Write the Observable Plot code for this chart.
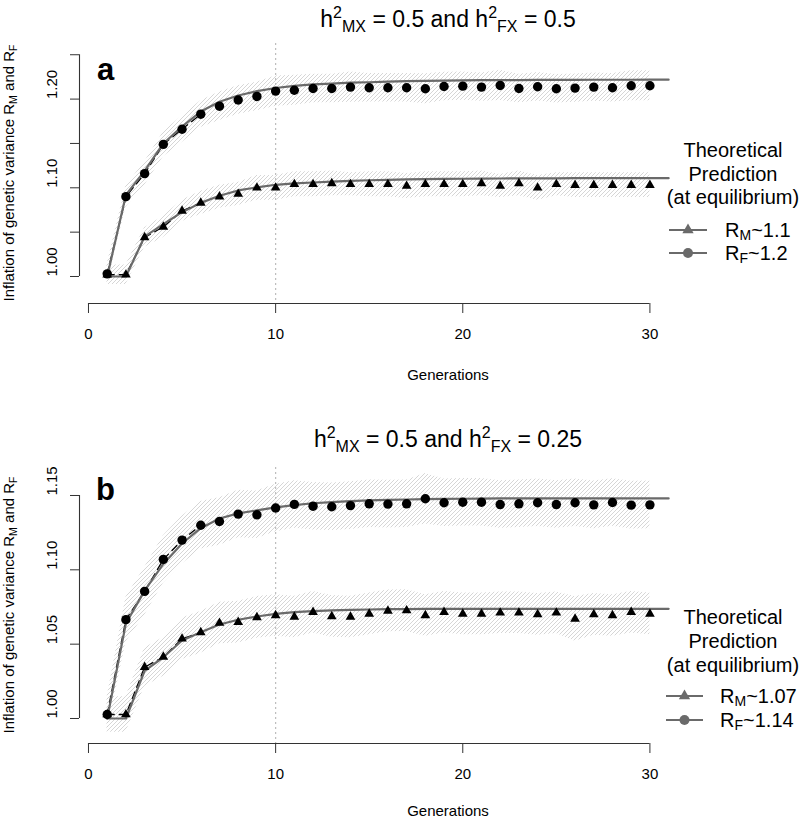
<!DOCTYPE html>
<html><head><meta charset="utf-8">
<script src="https://cdn.jsdelivr.net/npm/d3@7"></script>
<script src="https://cdn.jsdelivr.net/npm/@observablehq/plot@0.6"></script>
<style>
body{margin:0;background:#fff;}
#wrap{position:relative;width:800px;height:821px;overflow:hidden;font-family:"Liberation Sans",Arial,sans-serif;color:#000;background:#fff;}
.abs{position:absolute;white-space:nowrap;}
.panel{position:absolute;left:0;}
</style></head><body>
<svg width="0" height="0" style="position:absolute;left:0;top:0"><defs>
<pattern id="hatch" patternUnits="userSpaceOnUse" width="4" height="4">
<path d="M-1,1 L1,-1 M0,4 L4,0 M3,5 L5,3" stroke="#cbcbcb" stroke-width="0.8"/>
</pattern></defs></svg>
<div id="wrap"></div>
<script>
// ---------- data ----------
const generations = [1,2,3,4,5,6,7,8,9,10,11,12,13,14,15,16,17,18,19,20,21,22,23,24,25,26,27,28,29,30];
const theoryGenerations = [1,2,3,4,5,6,7,8,9,10,11,12,13,14,15,16,17,18,19,20,21,22,23,24,25,26,27,28,29,30,31];
const dashedGenerations = [1,2,3,4,5,6];
const xTicks = [0,10,20,30];
const xLabel = "Generations";
const yTitle = "Inflation of genetic variance R<sub>M</sub> and R<sub>F</sub>";
const legendTitle = ["Theoretical", "Prediction", "(at equilibrium)"];

// panel a : h2MX = 0.5, h2FX = 0.5
const aTitle = ["0.5", "0.5"];
const aObsRM = [1.002,1.002,1.044,1.056,1.074,1.083,1.090,1.093,1.100,1.100,1.104,1.104,1.105,1.104,1.104,1.104,1.102,1.104,1.104,1.104,1.105,1.102,1.105,1.100,1.104,1.103,1.103,1.103,1.103,1.103];
const aObsRF = [1.003,1.090,1.116,1.149,1.166,1.183,1.192,1.199,1.203,1.209,1.210,1.212,1.212,1.2135,1.2128,1.2128,1.2128,1.2117,1.2142,1.2146,1.2135,1.2154,1.2120,1.2139,1.2117,1.2124,1.2135,1.2128,1.2150,1.2150];
const aHalfRM = [0.011,0.011,0.011,0.012,0.012,0.013,0.013,0.013,0.014,0.014,0.014,0.014,0.014,0.013,0.014,0.014,0.014,0.014,0.014,0.014,0.014,0.013,0.014,0.014,0.013,0.014,0.014,0.014,0.014,0.014];
const aHalfRF = [0.011,0.012,0.013,0.014,0.015,0.015,0.016,0.016,0.016,0.017,0.017,0.016,0.016,0.017,0.016,0.016,0.016,0.017,0.016,0.016,0.016,0.017,0.016,0.016,0.016,0.016,0.016,0.016,0.017,0.017];
const aTheoryRM = [1.000,1.000,1.045,1.059,1.0725,1.083,1.091,1.097,1.1005,1.1034,1.105,1.106,1.107,1.1078,1.1085,1.109,1.1095,1.1098,1.1100,1.1102,1.1104,1.1105,1.1106,1.1107,1.1107,1.1108,1.1108,1.1108,1.1108,1.1108,1.1108];
const aTheoryRF = [1.000,1.092,1.119,1.150,1.169,1.186,1.197,1.204,1.209,1.2125,1.215,1.2165,1.2175,1.2185,1.219,1.2197,1.2202,1.2206,1.2209,1.2211,1.2213,1.2214,1.2215,1.2216,1.2217,1.2217,1.2218,1.2218,1.2218,1.2219,1.2219];
const aYTicks = [1.00,1.05,1.10,1.15,1.20,1.25];
const aYLabels = [1.00,1.10,1.20];
const aLegendValues = ["1.1", "1.2"];

// panel b : h2MX = 0.5, h2FX = 0.25
const bTitle = ["0.5", "0.25"];
const bObsRM = [1.0027,1.0027,1.0345,1.0414,1.0536,1.0579,1.0642,1.0648,1.0680,1.0693,1.0683,1.0715,1.0687,1.0683,1.0704,1.0724,1.0726,1.0693,1.0715,1.0704,1.0704,1.0711,1.0711,1.0700,1.0711,1.0670,1.0700,1.0693,1.0715,1.0704];
const bObsRF = [1.0027,1.0665,1.0855,1.1070,1.1200,1.1300,1.1325,1.1375,1.1370,1.1416,1.1440,1.1428,1.1424,1.1432,1.1444,1.1442,1.1444,1.1478,1.1451,1.1455,1.1455,1.1439,1.1444,1.1451,1.1439,1.1451,1.1437,1.1453,1.1435,1.1437];
const bHalfRM = [0.012,0.012,0.013,0.013,0.014,0.014,0.014,0.014,0.014,0.014,0.014,0.014,0.014,0.014,0.014,0.014,0.014,0.014,0.014,0.014,0.014,0.014,0.014,0.014,0.014,0.015,0.014,0.014,0.014,0.014];
const bHalfRF = [0.012,0.015,0.016,0.016,0.016,0.016,0.016,0.016,0.016,0.016,0.016,0.016,0.016,0.016,0.016,0.016,0.016,0.017,0.016,0.016,0.016,0.016,0.016,0.016,0.016,0.016,0.016,0.016,0.016,0.016];
const bTheoryRM = [1.000,1.000,1.032,1.0412,1.0525,1.058,1.0632,1.0664,1.0686,1.0704,1.0715,1.0722,1.0727,1.0730,1.0733,1.0735,1.0736,1.0737,1.0737,1.0738,1.0738,1.0738,1.0738,1.0738,1.0738,1.0738,1.0738,1.0738,1.0738,1.0738,1.0738];
const bTheoryRF = [1.000,1.064,1.086,1.104,1.1177,1.128,1.1345,1.138,1.140,1.142,1.1435,1.1448,1.1456,1.1462,1.1467,1.1470,1.1473,1.1475,1.1477,1.1478,1.1479,1.1480,1.1480,1.1480,1.1480,1.1480,1.1480,1.1480,1.1480,1.1480,1.1480];
const bYTicks = [1.00,1.05,1.10,1.15];
const bYLabels = [1.00,1.05,1.10,1.15];
const bLegendValues = ["1.07", "1.14"];

// ---------- layout ----------
const FONT = '"Liberation Sans", Arial, sans-serif';
const GRAY = "#6a6a6a";
const xDomain = [-0.48, 31.1];
const panels = [
  {letter:"a", top:0, height:410, mTop:43, mBottom:107, yDomain:[0.96956,1.26268], yTicks:aYTicks, yLabels:aYLabels,
   rM:aObsRM, rF:aObsRF, hM:aHalfRM, hF:aHalfRF, tM:aTheoryRM, tF:aTheoryRF, title:aTitle, legend:aLegendValues,
   titleBase:27, letterBase:80, letterLeft:97, xlabBase:380,
   legBase:[157,180.5,204], legRows:[230,253], legLine:[669,707], legText:725},
  {letter:"b", top:410, height:411, mTop:57, mBottom:78, yDomain:[0.98318,1.16883], yTicks:bYTicks, yLabels:bYLabels,
   rM:bObsRM, rF:bObsRF, hM:bHalfRM, hF:bHalfRF, tM:bTheoryRM, tF:bTheoryRF, title:bTitle, legend:bLegendValues,
   titleBase:447, letterBase:500, letterLeft:96, xlabBase:816,
   legBase:[624,648,671.5], legRows:[696,720], legLine:[666,703], legText:720}
];

const wrap = document.getElementById("wrap");

function addText(html, {x, base, size, anchor="start", weight="normal"}) {
  const d = document.createElement("div");
  d.className = "abs";
  d.innerHTML = html;
  d.style.fontSize = size + "px";
  d.style.lineHeight = size + "px";
  d.style.fontWeight = weight;
  d.style.top = (base - 0.8465 * size) + "px";
  d.style.left = x + "px";
  if (anchor === "middle") d.style.transform = "translateX(-50%)";
  wrap.appendChild(d);
  return d;
}

function drawPanel(p) {
  const obs = generations.map((g, i) => ({
    g, m: p.rM[i], f: p.rF[i],
    mlo: p.rM[i] - p.hM[i], mhi: p.rM[i] + p.hM[i],
    flo: p.rF[i] - p.hF[i], fhi: p.rF[i] + p.hF[i]
  }));
  const dashed = obs.filter(d => dashedGenerations.includes(d.g));
  const th = theoryGenerations.map((g, i) => ({g, m: p.tM[i], f: p.tF[i]}));
  const chart = Plot.plot({
    width: 800, height: p.height,
    marginLeft: 79, marginRight: 130, marginTop: p.mTop, marginBottom: p.mBottom,
    x: {domain: xDomain},
    y: {domain: p.yDomain},
    style: {fontFamily: FONT, background: "transparent", color: "#000", overflow: "visible"},
    marks: [
      Plot.areaY(obs, {x: "g", y1: "flo", y2: "fhi", fill: "url(#hatch)", curve: "linear"}),
      Plot.areaY(obs, {x: "g", y1: "mlo", y2: "mhi", fill: "url(#hatch)", curve: "linear"}),
      Plot.ruleX([10], {stroke: "#bdbdbd", strokeWidth: 1.2, strokeDasharray: "2,3"}),
      Plot.line(dashed, {x: "g", y: "f", stroke: "#000", strokeWidth: 1.3, strokeDasharray: "7,5"}),
      Plot.line(dashed, {x: "g", y: "m", stroke: "#000", strokeWidth: 1.3, strokeDasharray: "7,5"}),
      Plot.line(th, {x: "g", y: "f", stroke: GRAY, strokeWidth: 2.2}),
      Plot.line(th, {x: "g", y: "m", stroke: GRAY, strokeWidth: 2.2}),
      Plot.dot(obs, {x: "g", y: "f", r: 4.7, fill: "#000", stroke: "none", symbol: "circle"}),
      Plot.dot(obs, {x: "g", y: "m", r: 3.6, fill: "#000", stroke: "none", symbol: "triangle"}),
      Plot.ruleY([p.yDomain[0]], {x1: xTicks[0], x2: xTicks[xTicks.length - 1], stroke: "#333", strokeWidth: 1.1}),
      Plot.ruleX([xDomain[0]], {y1: p.yTicks[0], y2: p.yTicks[p.yTicks.length - 1], stroke: "#333", strokeWidth: 1.1}),
      Plot.axisX({ticks: xTicks, tickSize: 10, tickPadding: 15, fontSize: 15, label: null, stroke: "#333", tickFormat: d => String(d)}),
      Plot.axisY({ticks: p.yTicks, tickSize: 9, tickFormat: () => "", label: null, stroke: "#333"}),
      Plot.text(p.yLabels, {y: d => d, text: d => d.toFixed(2), frameAnchor: "left", dx: -27, rotate: -90, fontSize: 15, fill: "#000"})
    ]
  });
  chart.classList.add("panel");
  chart.style.top = p.top + "px";
  wrap.appendChild(chart);

  // title
  const sup = s => `<span style="font-size:16px;line-height:0;position:relative;top:-9px">${s}</span>`;
  const sub = s => `<span style="font-size:16px;line-height:0;position:relative;top:5px">${s}</span>`;
  addText(`h${sup("2")}${sub("MX")} = ${p.title[0]} and h${sup("2")}${sub("FX")} = ${p.title[1]}`,
    {x: 448, base: p.titleBase, size: 23, anchor: "middle"});
  // panel letter
  addText(p.letter, {x: p.letterLeft, base: p.letterBase, size: 31, weight: "bold"});
  // x label
  addText(xLabel, {x: 448, base: p.xlabBase, size: 15, anchor: "middle"});
  // y title (rotated)
  const yt = document.createElement("div");
  yt.className = "abs";
  yt.innerHTML = yTitle.replace(/<sub>/g, '<span style="font-size:10.5px;line-height:0;position:relative;top:3px">').replace(/<\/sub>/g, "</span>");
  yt.style.fontSize = "15px";
  yt.style.lineHeight = "15px";
  yt.style.left = "8px";
  yt.style.top = ((p.top + p.mTop + p.height - p.mBottom) / 2 + p.top / 2) + "px";
  yt.style.transform = "translate(-50%,-50%) rotate(-90deg)";
  wrap.appendChild(yt);

  // legend
  legendTitle.forEach((t, i) => addText(t, {x: 733, base: p.legBase[i], size: 20, anchor: "middle"}));
  const names = ["M", "F"];
  const [x1, x2] = p.legLine;
  const xm = (x1 + x2) / 2;
  let svg = `<svg width="800" height="821" style="position:absolute;left:0;top:0;pointer-events:none">`;
  p.legRows.forEach((yy, i) => {
    svg += `<line x1="${x1}" x2="${x2}" y1="${yy}" y2="${yy}" stroke="${GRAY}" stroke-width="2"/>`;
    if (i === 0) {
      svg += `<path d="${d3.symbol(d3.symbolTriangle, Math.PI * 4.2 * 4.2)()}" transform="translate(${xm},${yy})" fill="${GRAY}"/>`;
    } else {
      svg += `<circle cx="${xm}" cy="${yy}" r="5" fill="${GRAY}"/>`;
    }
    addText(`R<span style="font-size:14px;line-height:0;position:relative;top:3px">${names[i]}</span>~${p.legend[i]}`,
      {x: p.legText, base: yy + 7.2, size: 20});
  });
  svg += `</svg>`;
  const holder = document.createElement("div");
  holder.innerHTML = svg;
  wrap.appendChild(holder.firstChild);
}

panels.forEach(drawPanel);
</script>
</body></html>
